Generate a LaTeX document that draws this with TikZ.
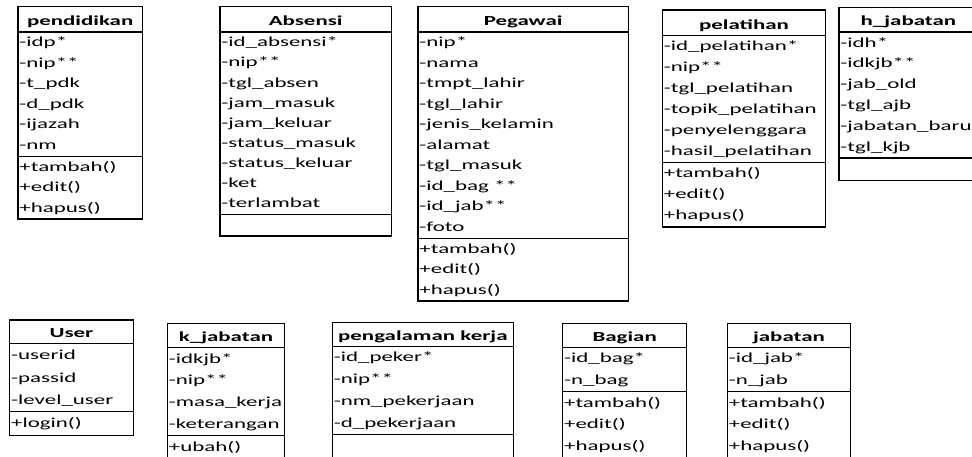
\documentclass[tikz,border=0pt]{standalone}
\usepackage{fontspec}
\setmainfont[FakeStretch=1.66]{Carlito}
\usetikzlibrary{shapes.multipart}

\tikzset{
	kelas/.style={draw, line width=1.3pt, rectangle split, rectangle split parts=3,
		rectangle split part align={center,left,left}, anchor=north west,
		inner xsep=1.5pt, inner ysep=0pt, align=left,
		font=\fontsize{13.8}{20.5}\selectfont},
	baris/.style={font=\fontsize{13.8}{#1}\selectfont}
}
\newcommand{\judul}[2][24pt]{\rule[-5.5pt]{0pt}{#1}\textbf{#2}}

\begin{document}
\begin{tikzpicture}[x=1pt, y=-1pt]
	\useasboundingbox (0,0) rectangle (972,456);
	% baris atas
	\node[kelas, minimum width=124.4pt] (pendidikan) at (17.3,6) {\judul{pendidikan}
		\nodepart{second}\strut-idp*\\-nip**\\-t\_pdk\\-d\_pdk\\-ijazah\\-nm\strut
		\nodepart{third}\strut+tambah()\\+edit()\\+hapus()\strut};
	\node[kelas, baris=20.15, minimum width=171.4pt] (absensi) at (219.3,6) {\judul{Absensi}
		\nodepart{second}\strut-id\_absensi*\\-nip**\\-tgl\_absen\\-jam\_masuk\\-jam\_keluar\\-status\_masuk\\-status\_keluar\\-ket\\-terlambat\strut
		\nodepart{third}\strut};
	\node[kelas, minimum width=210.4pt] (pegawai) at (417.3,6) {\judul{Pegawai}
		\nodepart{second}\strut-nip*\\-nama\\-tmpt\_lahir\\-tgl\_lahir\\-jenis\_kelamin\\-alamat\\-tgl\_masuk\\-id\_bag **\\-id\_jab**\\-foto\strut
		\nodepart{third}\strut+tambah()\\+edit()\\+hapus()\strut};
	\node[kelas, baris=21, minimum width=163.3pt] (pelatihan) at (661.7,9.3) {\judul{pelatihan}
		\nodepart{second}\strut-id\_pelatihan*\\-nip**\\-tgl\_pelatihan\\-topik\_pelatihan\\-penyelenggara\\-hasil\_pelatihan\strut
		\nodepart{third}\strut+tambah()\\+edit()\\+hapus()\strut};
	\node[kelas, baris=20.8, minimum width=139pt] (hjabatan) at (838.3,6.7) {\judul[23.3pt]{h\_jabatan}
		\nodepart{second}\strut-idh*\\-idkjb**\\-jab\_old\\-tgl\_ajb\\-jabatan\_baru\\-tgl\_kjb\strut
		\nodepart{third}\strut};
	% baris bawah
	\node[kelas, baris=22.2, minimum width=123.7pt] (user) at (9,319.3) {\judul[22.5pt]{User}
		\nodepart{second}\strut-userid\\-passid\\-level\_user\strut
		\nodepart{third}\strut+login()\strut};
	\node[kelas, baris=21.8, minimum width=117.3pt] (kjabatan) at (166.7,322.7) {\judul[22.5pt]{k\_jabatan}
		\nodepart{second}\strut-idkjb*\\-nip**\\-masa\_kerja\\-keterangan\strut
		\nodepart{third}\strut+ubah()\strut};
	\node[kelas, baris=21.7, minimum width=181pt] (pengalaman) at (331.7,321.7) {\judul[22.5pt]{pengalaman kerja}
		\nodepart{second}\strut-id\_peker*\\-nip**\\-nm\_pekerjaan\\-d\_pekerjaan\strut
		\nodepart{third}\strut};
	\node[kelas, baris=21.5, minimum width=124pt] (bagian) at (562,322.7) {\judul[22.5pt]{Bagian}
		\nodepart{second}\strut-id\_bag*\\-n\_bag\strut
		\nodepart{third}\strut+tambah()\\+edit()\\+hapus()\strut};
	\node[kelas, baris=21.5, minimum width=123.3pt] (jabatan) at (726.7,322.7) {\judul[22.5pt]{jabatan}
		\nodepart{second}\strut-id\_jab*\\-n\_jab\strut
		\nodepart{third}\strut+tambah()\\+edit()\\+hapus()\strut};
\end{tikzpicture}
\end{document}
